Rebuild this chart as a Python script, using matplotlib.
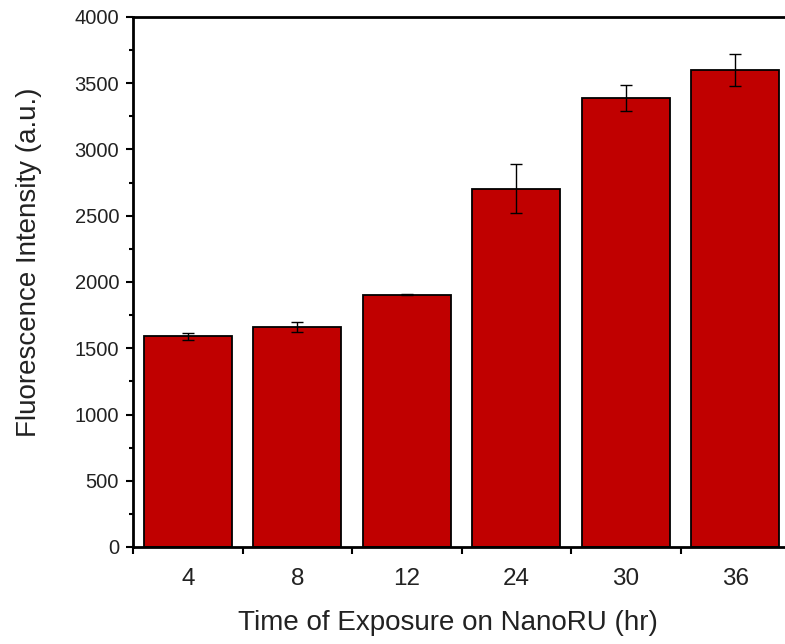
import matplotlib
matplotlib.use("Agg")
import matplotlib.pyplot as plt
from matplotlib.ticker import MultipleLocator, FixedLocator

categories = ["4", "8", "12", "24", "30", "36"]
values = [1590, 1660, 1905, 2705, 3390, 3600]
errors = [25, 35, 5, 185, 97, 123]

plt.rcParams['font.family'] = ['Liberation Sans', 'DejaVu Sans']

fig = plt.figure(figsize=(7.85, 6.44), dpi=100)
ax = fig.add_axes([133/785, 97/644, (790-133)/785, 530/644])

x = list(range(len(categories)))
ax.bar(x, values, width=0.8, color="#C00000", edgecolor="black", linewidth=1.3,
       yerr=errors, error_kw=dict(ecolor="black", elinewidth=1, capsize=4, capthick=1))

ax.set_xlim(-0.5, 5.5)
ax.set_ylim(0, 4000)
ax.yaxis.set_major_locator(MultipleLocator(500))
ax.yaxis.set_minor_locator(MultipleLocator(250))
ax.set_xticks(x)
ax.set_xticklabels(categories, fontsize=17.5, color="#222222")
ax.xaxis.set_minor_locator(FixedLocator([i + 0.5 for i in range(-1, 6)]))
ax.tick_params(axis='x', which='major', length=0, pad=15)
ax.tick_params(axis='x', which='minor', direction='out', length=5, width=1.5)
ax.tick_params(axis='y', which='major', direction='out', length=5, width=1.5,
               labelsize=14.5, pad=5, labelcolor="#222222")
ax.tick_params(axis='y', which='minor', direction='out', length=3, width=1.5)
for s in ['left', 'bottom', 'top']:
    ax.spines[s].set_linewidth(2)
ax.spines['right'].set_visible(False)

ax.set_xlabel("Time of Exposure on NanoRU (hr)", fontsize=20, color="#222222")
ax.set_ylabel("Fluorescence Intensity (a.u.)", fontsize=20, color="#222222")
ax.xaxis.set_label_coords(0.48, -0.119)
ax.yaxis.set_label_coords(-0.1385, 0.538)

fig.savefig("out.png", dpi=100)
